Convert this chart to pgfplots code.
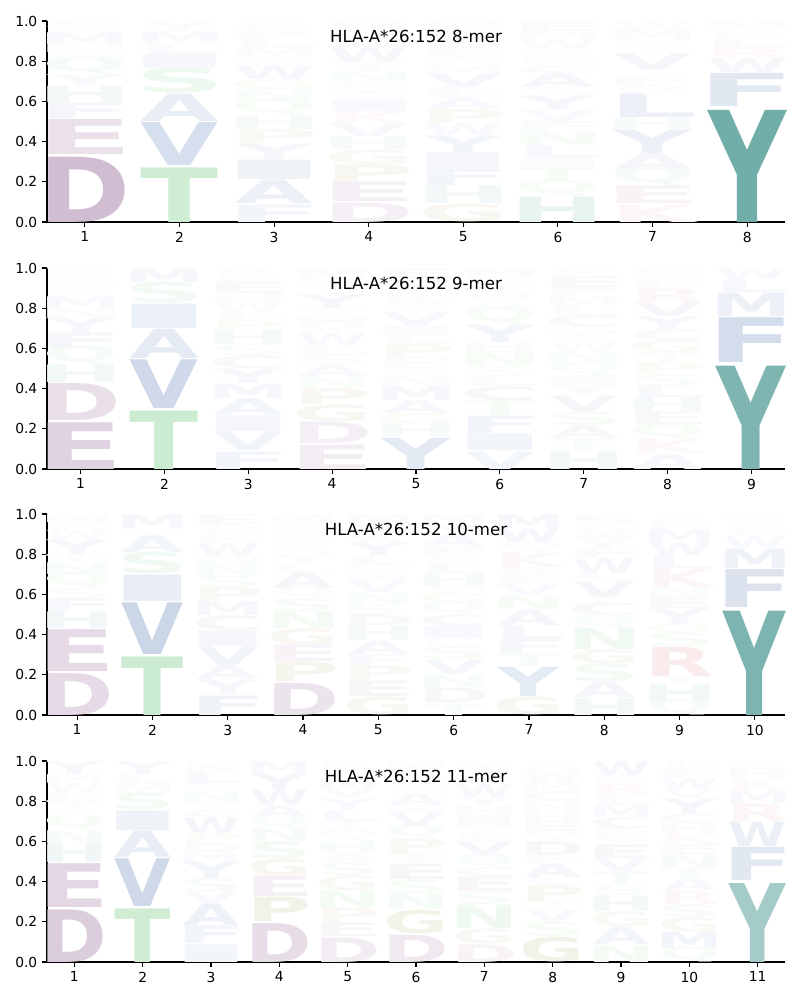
\documentclass[border=0pt]{standalone}
\usepackage{fontspec}
\setmainfont{DejaVu Sans}
\usepackage{graphicx}
\usepackage{pgfplots}
\pgfplotsset{compat=1.18}
\usepackage{pgfplotstable}

\definecolor{pur}{RGB}{162,123,164}
\definecolor{grn}{RGB}{134,210,146}
\definecolor{blu}{RGB}{114,144,193}
\definecolor{tea}{RGB}{110,172,168}
\definecolor{oli}{RGB}{165,160,90}
\definecolor{rdd}{RGB}{228,150,150}

\newcommand\deflet[3]{\colorlet{c#1}{#2}\expandafter\def\csname lf#1\endcsname{#3}}
\deflet{A}{blu}{1.04}\deflet{C}{pur}{1.2}\deflet{D}{pur}{1.22}\deflet{E}{pur}{1.3}
\deflet{F}{blu}{1.3}\deflet{G}{oli}{1.2}\deflet{H}{tea}{1.27}\deflet{I}{blu}{1.9}
\deflet{K}{rdd}{1.13}\deflet{L}{blu}{1.2}\deflet{M}{blu}{1.22}\deflet{N}{grn}{1.27}
\deflet{P}{oli}{1.2}\deflet{Q}{grn}{1.13}\deflet{R}{rdd}{1.15}\deflet{S}{grn}{1.2}
\deflet{T}{grn}{1.03}\deflet{V}{blu}{1.03}\deflet{W}{blu}{1.06}\deflet{Y}{blu}{1.03}
\colorlet{cYbig}{tea}

\def\lwbase{0.7569}
\def\letY{Y}
\newcommand\logoletter[2]{%
  \edef\lett{#1}%
  \pgfmathsetmacro\lh{#2*2.01*0.97}%
  \pgfmathtruncatemacro\la{100*min(1,(#2/0.58)^1.25)}%
  \pgfmathsetmacro\lwx{\lwbase*\csname lf\lett\endcsname}%
  \edef\lcol{c\lett!\la!white}%
  \ifx\lett\letY\ifdim #2pt>0.3pt \edef\lcol{cYbig!\la!white}\fi\fi
  \makebox[\lwbase in][c]{\textcolor{\lcol}{\resizebox{\lwx in}{\lh in}{\bfseries\lett}}}}

\newcommand\logoplot[1]{\addplot[only marks, mark=*, mark size=0pt,
    mark options={draw=none,fill=none},
    point meta=explicit symbolic,
    visualization depends on={\thisrow{h}\as\myH},
    nodes near coords={\logoletter{\pgfplotspointmeta}{\myH}},
    nodes near coords style={anchor=south, inner sep=0pt, outer sep=0pt}]
    table[x=x,y=y,meta=L]{#1};}

\pgfplotsset{logo/.style={
  scale only axis, width=7.38in, height=2.01in, anchor=north west,
  xmin=0.6, ymin=0, ymax=1,
  axis x line*=bottom, axis y line*=left,
  tick align=outside, major tick length=3.5pt,
  every tick/.style={black, line width=0.8pt},
  axis line style={line width=0.8pt},
  ytick={0,0.2,0.4,0.6,0.8,1},
  yticklabel style={/pgf/number format/.cd, fixed, fixed zerofill, precision=1, assume math mode=true},
  xticklabel style={/pgf/number format/assume math mode=true},
  tick label style={font=\fontsize{10}{12}\selectfont},
  every axis title/.style={at={(0.5,0.925)}, anchor=center, font=\fontsize{12}{14}\selectfont},
  clip=false,
}}

\pgfplotstableread{
x y h L
1 0 0.335 D
1 0.335 0.18 E
1 0.515 0.08 F
1 0.595 0.083 H
1 0.678 0.055 Y
1 0.733 0.08 Q
1 0.813 0.03 I
1 0.843 0.04 N
1 0.883 0.06 M
1 0.943 0.03 W
1 0.973 0.027 K
2 0 0.28 T
2 0.28 0.22 V
2 0.50 0.14 A
2 0.64 0.125 S
2 0.765 0.075 I
2 0.84 0.05 L
2 0.89 0.06 M
2 0.95 0.05 Y
3 0 0.09 F
3 0.09 0.12 A
3 0.21 0.10 I
3 0.31 0.08 Y
3 0.39 0.07 P
3 0.46 0.07 H
3 0.53 0.07 Q
3 0.60 0.06 N
3 0.66 0.05 G
3 0.71 0.07 W
3 0.78 0.04 K
3 0.82 0.05 M
3 0.87 0.05 L
3 0.92 0.04 E
3 0.96 0.04 R
4 0 0.10 D
4 0.10 0.10 E
4 0.20 0.085 P
4 0.285 0.075 G
4 0.36 0.065 H
4 0.425 0.065 V
4 0.49 0.06 K
4 0.55 0.06 I
4 0.61 0.04 A
4 0.65 0.045 S
4 0.695 0.055 N
4 0.75 0.05 T
4 0.80 0.07 W
4 0.87 0.05 L
4 0.92 0.04 M
4 0.96 0.04 Q
5 0 0.09 G
5 0.09 0.09 H
5 0.18 0.085 F
5 0.265 0.08 I
5 0.345 0.085 Y
5 0.43 0.06 W
5 0.49 0.07 P
5 0.56 0.06 A
5 0.62 0.05 L
5 0.67 0.07 V
5 0.74 0.04 M
5 0.78 0.04 R
5 0.82 0.04 E
5 0.86 0.05 S
5 0.91 0.05 N
5 0.96 0.04 Q
6 0 0.13 H
6 0.13 0.07 Q
6 0.20 0.07 T
6 0.27 0.05 I
6 0.32 0.06 L
6 0.38 0.07 N
6 0.45 0.05 F
6 0.50 0.06 V
6 0.56 0.07 Y
6 0.63 0.04 S
6 0.67 0.07 A
6 0.74 0.04 C
6 0.78 0.04 R
6 0.82 0.04 K
6 0.86 0.05 W
6 0.91 0.04 M
6 0.95 0.05 E
7 0 0.09 K
7 0.09 0.09 E
7 0.18 0.08 Q
7 0.26 0.08 A
7 0.34 0.12 Y
7 0.46 0.06 H
7 0.52 0.12 L
7 0.64 0.04 R
7 0.68 0.05 F
7 0.73 0.03 T
7 0.76 0.08 V
7 0.84 0.04 S
7 0.88 0.03 N
7 0.91 0.05 M
7 0.96 0.04 W
8 0 0.575 Y
8 0.575 0.17 F
8 0.745 0.07 W
8 0.815 0.055 R
8 0.87 0.05 L
8 0.92 0.04 K
8 0.96 0.04 M
}\tA

\pgfplotstableread{
x y h L
1 0 0.24 E
1 0.24 0.19 D
1 0.43 0.09 H
1 0.52 0.08 Q
1 0.60 0.08 F
1 0.68 0.075 Y
1 0.755 0.045 N
1 0.80 0.06 M
1 0.86 0.03 L
1 0.89 0.04 S
1 0.93 0.04 K
1 0.97 0.03 W
2 0 0.30 T
2 0.30 0.25 V
2 0.55 0.15 A
2 0.70 0.125 I
2 0.825 0.105 S
2 0.93 0.07 M
3 0 0.09 F
3 0.09 0.095 V
3 0.185 0.08 I
3 0.265 0.085 A
3 0.35 0.075 M
3 0.425 0.075 Y
3 0.50 0.065 C
3 0.565 0.055 S
3 0.62 0.07 H
3 0.69 0.05 P
3 0.74 0.04 L
3 0.78 0.045 W
3 0.825 0.05 N
3 0.875 0.06 E
3 0.935 0.035 K
3 0.97 0.03 R
4 0 0.125 E
4 0.125 0.11 D
4 0.235 0.085 G
4 0.32 0.08 P
4 0.40 0.06 N
4 0.46 0.06 A
4 0.52 0.045 S
4 0.565 0.05 L
4 0.615 0.06 W
4 0.675 0.035 K
4 0.71 0.05 H
4 0.76 0.04 Q
4 0.80 0.07 Y
4 0.87 0.04 T
4 0.91 0.04 R
4 0.95 0.05 M
5 0 0.16 Y
5 0.16 0.065 H
5 0.225 0.05 G
5 0.275 0.065 A
5 0.34 0.07 M
5 0.41 0.05 N
5 0.46 0.045 S
5 0.505 0.05 F
5 0.555 0.065 P
5 0.62 0.045 L
5 0.665 0.05 I
5 0.715 0.065 V
5 0.78 0.04 Q
5 0.82 0.05 K
5 0.87 0.04 R
5 0.91 0.04 W
5 0.95 0.05 E
6 0 0.09 V
6 0.09 0.085 I
6 0.175 0.09 F
6 0.265 0.075 T
6 0.34 0.07 C
6 0.41 0.05 L
6 0.46 0.05 S
6 0.51 0.07 N
6 0.58 0.05 H
6 0.63 0.09 Y
6 0.72 0.075 Q
6 0.795 0.04 A
6 0.835 0.04 W
6 0.875 0.04 K
6 0.915 0.04 R
6 0.955 0.045 M
7 0 0.09 H
7 0.09 0.06 T
7 0.15 0.065 A
7 0.215 0.07 S
7 0.285 0.08 V
7 0.365 0.05 Y
7 0.415 0.05 I
7 0.465 0.06 Q
7 0.525 0.055 N
7 0.58 0.05 W
7 0.63 0.04 R
7 0.67 0.04 G
7 0.71 0.055 C
7 0.765 0.05 L
7 0.815 0.045 M
7 0.86 0.045 F
7 0.905 0.055 E
7 0.96 0.04 K
8 0 0.075 A
8 0.075 0.075 K
8 0.15 0.07 Q
8 0.22 0.065 E
8 0.285 0.07 H
8 0.355 0.055 L
8 0.41 0.06 S
8 0.47 0.06 P
8 0.53 0.05 T
8 0.58 0.06 G
8 0.64 0.055 C
8 0.695 0.065 Y
8 0.76 0.07 V
8 0.83 0.07 R
8 0.90 0.04 F
8 0.94 0.03 I
8 0.97 0.03 W
9 0 0.53 Y
9 0.53 0.23 F
9 0.76 0.12 M
9 0.88 0.065 L
9 0.945 0.055 W
}\tB

\pgfplotstableread{
x y h L
1 0 0.215 D
1 0.215 0.215 E
1 0.43 0.085 H
1 0.515 0.065 F
1 0.58 0.05 S
1 0.63 0.07 Q
1 0.70 0.06 N
1 0.76 0.04 T
1 0.80 0.075 Y
1 0.875 0.045 W
1 0.92 0.04 K
1 0.96 0.04 M
2 0 0.30 T
2 0.30 0.265 V
2 0.565 0.135 I
2 0.70 0.11 S
2 0.81 0.085 A
2 0.895 0.035 L
2 0.93 0.07 M
3 0 0.10 F
3 0.10 0.075 Y
3 0.175 0.07 A
3 0.245 0.095 V
3 0.34 0.08 I
3 0.42 0.075 C
3 0.495 0.07 M
3 0.565 0.07 P
3 0.635 0.06 S
3 0.695 0.055 N
3 0.75 0.04 H
3 0.79 0.065 W
3 0.855 0.05 K
3 0.905 0.045 R
3 0.95 0.05 E
4 0 0.165 D
4 0.165 0.10 P
4 0.265 0.085 E
4 0.35 0.08 G
4 0.43 0.085 N
4 0.515 0.065 S
4 0.58 0.05 Q
4 0.63 0.08 A
4 0.71 0.04 L
4 0.75 0.05 Y
4 0.80 0.04 R
4 0.84 0.04 T
4 0.88 0.04 V
4 0.92 0.04 K
4 0.96 0.04 M
5 0 0.09 G
5 0.09 0.08 E
5 0.17 0.075 P
5 0.245 0.055 F
5 0.30 0.07 A
5 0.37 0.075 H
5 0.445 0.055 D
5 0.50 0.05 S
5 0.55 0.06 N
5 0.61 0.06 V
5 0.67 0.035 I
5 0.705 0.04 Q
5 0.745 0.05 L
5 0.795 0.065 Y
5 0.86 0.04 W
5 0.90 0.05 K
5 0.95 0.05 M
6 0 0.06 T
6 0.06 0.075 D
6 0.135 0.065 N
6 0.20 0.075 V
6 0.275 0.07 S
6 0.345 0.035 K
6 0.38 0.06 I
6 0.44 0.06 C
6 0.50 0.055 Q
6 0.555 0.05 G
6 0.605 0.035 P
6 0.64 0.065 H
6 0.705 0.05 L
6 0.755 0.04 R
6 0.795 0.045 F
6 0.84 0.06 A
6 0.90 0.05 Y
6 0.95 0.05 M
7 0 0.09 G
7 0.09 0.15 Y
7 0.24 0.065 T
7 0.305 0.07 F
7 0.375 0.07 L
7 0.445 0.08 A
7 0.525 0.07 N
7 0.595 0.055 V
7 0.65 0.04 E
7 0.69 0.045 R
7 0.735 0.075 K
7 0.81 0.05 Q
7 0.86 0.07 W
7 0.93 0.07 M
8 0 0.085 H
8 0.085 0.08 A
8 0.165 0.09 S
8 0.255 0.07 G
8 0.325 0.11 N
8 0.435 0.06 Q
8 0.495 0.065 C
8 0.56 0.025 T
8 0.585 0.08 V
8 0.665 0.04 L
8 0.705 0.075 W
8 0.78 0.05 F
8 0.83 0.05 Y
8 0.88 0.04 I
8 0.92 0.04 K
8 0.96 0.04 E
9 0 0.065 Q
9 0.065 0.085 H
9 0.15 0.04 T
9 0.19 0.15 R
9 0.34 0.07 S
9 0.41 0.045 G
9 0.455 0.075 Y
9 0.53 0.055 E
9 0.585 0.05 N
9 0.635 0.095 K
9 0.73 0.065 L
9 0.795 0.065 W
9 0.86 0.065 M
9 0.925 0.04 F
9 0.965 0.035 A
10 0 0.535 Y
10 0.535 0.195 F
10 0.73 0.10 M
10 0.83 0.06 W
10 0.89 0.04 L
10 0.93 0.035 R
10 0.965 0.035 I
}\tC

\pgfplotstableread{
x y h L
1 0 0.27 D
1 0.27 0.225 E
1 0.495 0.095 H
1 0.59 0.065 N
1 0.655 0.07 Q
1 0.725 0.035 S
1 0.76 0.045 T
1 0.805 0.04 F
1 0.845 0.05 W
1 0.895 0.04 M
1 0.935 0.065 Y
2 0 0.275 T
2 0.275 0.245 V
2 0.52 0.135 A
2 0.655 0.10 I
2 0.755 0.085 S
2 0.84 0.045 M
2 0.885 0.05 L
2 0.935 0.065 Y
3 0 0.09 I
3 0.09 0.09 F
3 0.18 0.11 A
3 0.29 0.06 V
3 0.35 0.065 S
3 0.415 0.085 Y
3 0.50 0.045 M
3 0.545 0.045 D
3 0.59 0.05 P
3 0.64 0.08 W
3 0.72 0.04 C
3 0.76 0.035 Q
3 0.795 0.055 N
3 0.85 0.04 R
3 0.89 0.06 L
3 0.95 0.05 K
4 0 0.20 D
4 0.20 0.125 P
4 0.325 0.105 E
4 0.43 0.085 G
4 0.515 0.085 S
4 0.60 0.065 N
4 0.665 0.06 Q
4 0.725 0.055 A
4 0.78 0.08 W
4 0.86 0.08 Y
4 0.94 0.06 M
5 0 0.125 D
5 0.125 0.07 E
5 0.195 0.075 P
5 0.27 0.085 N
5 0.355 0.075 G
5 0.43 0.065 S
5 0.495 0.05 A
5 0.545 0.055 H
5 0.60 0.05 Q
5 0.65 0.05 T
5 0.70 0.055 L
5 0.755 0.06 Y
5 0.815 0.05 V
5 0.865 0.05 M
5 0.915 0.04 W
5 0.955 0.045 R
6 0 0.14 D
6 0.14 0.12 G
6 0.26 0.08 N
6 0.34 0.07 S
6 0.41 0.08 E
6 0.49 0.05 T
6 0.54 0.075 P
6 0.615 0.06 Q
6 0.675 0.07 V
6 0.745 0.035 I
6 0.78 0.06 A
6 0.84 0.04 K
6 0.88 0.04 L
6 0.92 0.04 R
6 0.96 0.04 M
7 0 0.09 D
7 0.09 0.075 G
7 0.165 0.12 N
7 0.285 0.065 S
7 0.35 0.075 E
7 0.425 0.045 C
7 0.47 0.06 Q
7 0.53 0.07 V
7 0.60 0.04 L
7 0.64 0.04 T
7 0.68 0.045 I
7 0.725 0.05 H
7 0.775 0.045 Y
7 0.82 0.065 W
7 0.885 0.04 K
7 0.925 0.035 R
7 0.96 0.04 M
8 0 0.125 G
8 0.125 0.075 S
8 0.20 0.06 V
8 0.26 0.04 T
8 0.30 0.08 P
8 0.38 0.04 L
8 0.42 0.07 A
8 0.49 0.04 F
8 0.53 0.07 D
8 0.60 0.05 Q
8 0.65 0.05 E
8 0.70 0.05 H
8 0.75 0.05 N
8 0.80 0.05 C
8 0.85 0.05 M
8 0.90 0.05 W
8 0.95 0.05 R
9 0 0.085 N
9 0.085 0.09 A
9 0.175 0.075 G
9 0.25 0.08 H
9 0.33 0.055 S
9 0.385 0.065 T
9 0.45 0.065 V
9 0.515 0.07 E
9 0.585 0.045 Q
9 0.63 0.035 I
9 0.665 0.055 C
9 0.72 0.06 M
9 0.78 0.05 L
9 0.83 0.06 R
9 0.89 0.04 K
9 0.93 0.07 W
10 0 0.065 Q
10 0.065 0.085 M
10 0.15 0.07 G
10 0.22 0.065 S
10 0.285 0.07 R
10 0.355 0.06 A
10 0.415 0.055 T
10 0.47 0.065 N
10 0.535 0.05 E
10 0.585 0.055 K
10 0.64 0.05 H
10 0.69 0.05 C
10 0.74 0.075 Y
10 0.815 0.045 V
10 0.86 0.055 W
10 0.915 0.045 F
10 0.96 0.04 L
11 0 0.405 Y
11 0.405 0.17 F
11 0.575 0.125 W
11 0.70 0.09 R
11 0.79 0.065 M
11 0.855 0.06 K
11 0.915 0.05 H
11 0.965 0.035 L
}\tD

\begin{document}
\begin{tikzpicture}
\path[use as bounding box] (0,0) rectangle (8in,-10in);

\def\lwbase{0.7569}
\begin{axis}[logo, at={(0.47in,-0.21in)}, xmax=8.4, xtick={1,...,8},
  title={HLA-A*26:152 8-mer}]
\logoplot{\tA}
\end{axis}

\def\lwbase{0.6709}
\begin{axis}[logo, at={(0.47in,-2.68in)}, xmax=9.4, xtick={1,...,9},
  title={HLA-A*26:152 9-mer}]
\logoplot{\tB}
\end{axis}

\def\lwbase{0.6024}
\begin{axis}[logo, at={(0.47in,-5.14in)}, xmax=10.4, xtick={1,...,10},
  title={HLA-A*26:152 10-mer}]
\logoplot{\tC}
\end{axis}

\def\lwbase{0.5467}
\begin{axis}[logo, at={(0.47in,-7.61in)}, xmax=11.4, xtick={1,...,11},
  title={HLA-A*26:152 11-mer}]
\logoplot{\tD}
\end{axis}
\end{tikzpicture}
\end{document}
